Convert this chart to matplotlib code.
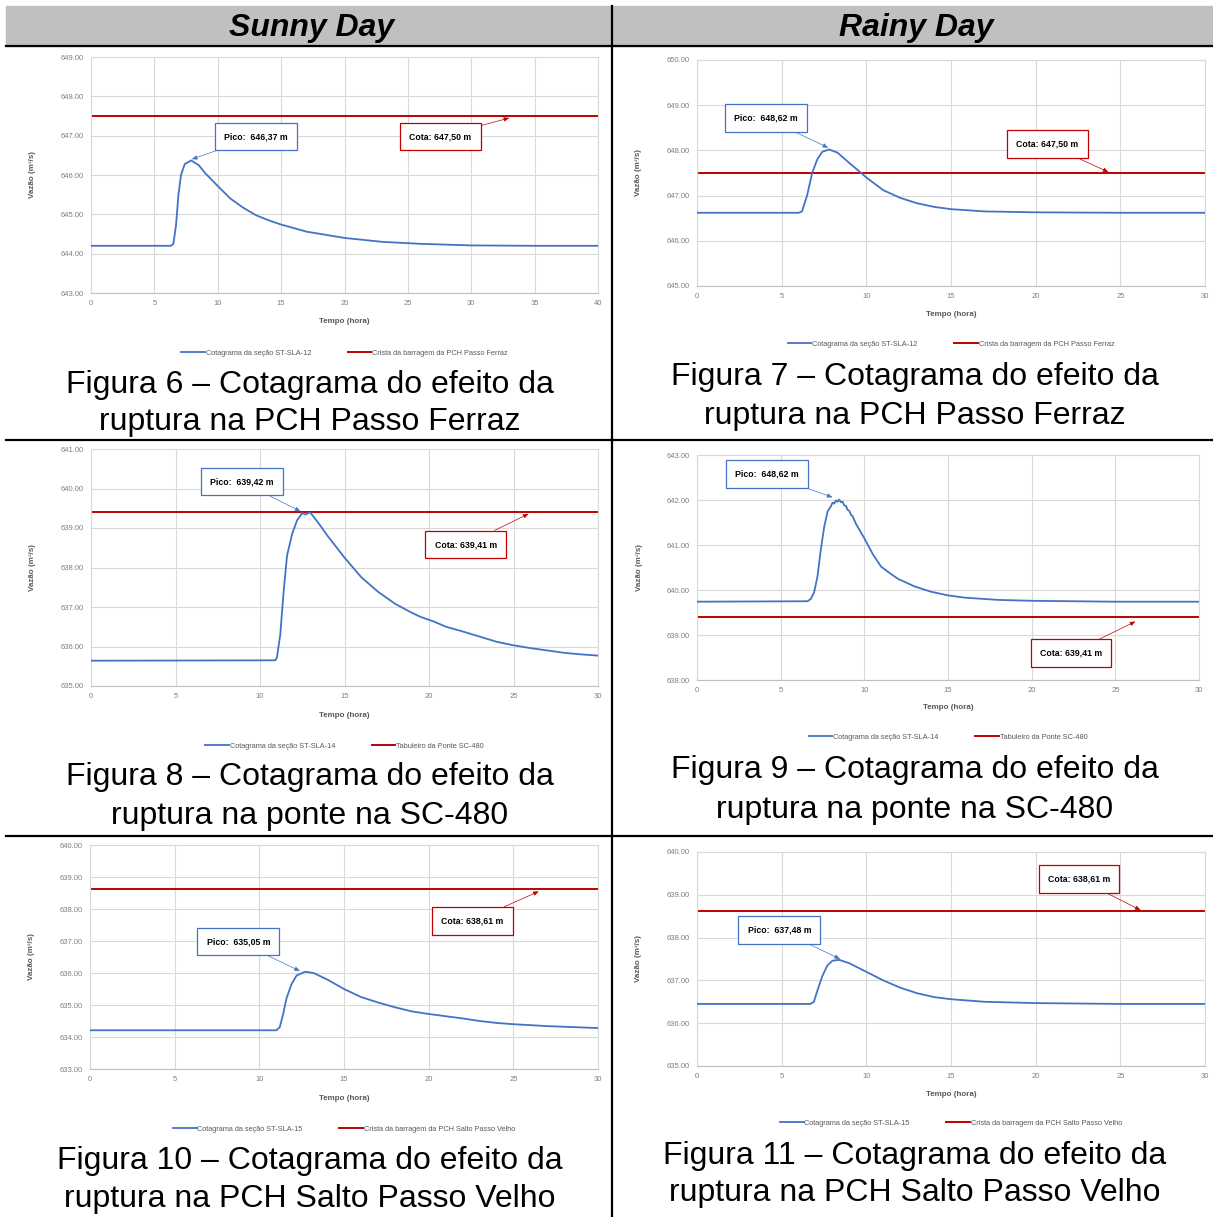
import numpy as np
import matplotlib
matplotlib.use('Agg')
import matplotlib.pyplot as plt
from matplotlib.lines import Line2D

plt.rcParams['font.family'] = ['Liberation Sans', 'DejaVu Sans']

W, H = 1213, 1217

# ---- data ----
headers = ['Sunny Day', 'Rainy Day']

t6 = [0, 6.3, 6.5, 6.7, 6.9, 7.1, 7.4, 7.9, 8.5, 9.0, 10, 11, 12, 13, 14, 15, 17, 20, 23, 26, 30, 35, 40]
z6 = [644.20, 644.20, 644.25, 644.70, 645.50, 646.00, 646.28, 646.37, 646.25, 646.05, 645.72, 645.40,
      645.17, 644.98, 644.85, 644.74, 644.56, 644.40, 644.30, 644.25, 644.21, 644.20, 644.20]

t7 = [0, 6.0, 6.2, 6.5, 6.8, 7.1, 7.4, 7.8, 8.3, 9.0, 9.7, 10, 11, 12, 13, 14, 15, 17, 20, 25, 30]
z7 = [646.62, 646.62, 646.65, 647.00, 647.50, 647.80, 647.97, 648.02, 647.95, 647.72, 647.50, 647.40,
      647.12, 646.95, 646.83, 646.75, 646.70, 646.65, 646.63, 646.62, 646.62]

t8 = [0, 10.9, 11.0, 11.2, 11.4, 11.6, 11.9, 12.2, 12.5, 12.7, 12.9, 13.0, 13.5, 14, 15, 16, 17, 18, 19,
      19.5, 20.3, 21, 22, 23, 24, 25, 26, 27, 28, 29, 30]
z8 = [635.64, 635.65, 635.72, 636.30, 637.40, 638.30, 638.85, 639.20, 639.38, 639.34, 639.39, 639.38,
      639.10, 638.80, 638.25, 637.75, 637.38, 637.08, 636.85, 636.75, 636.63, 636.50, 636.38, 636.25,
      636.12, 636.03, 635.96, 635.90, 635.84, 635.80, 635.77]

t9 = [0, 6.6, 6.8, 7.0, 7.2, 7.4, 7.6, 7.8, 7.9, 8.0, 8.1, 8.2, 8.3, 8.4, 8.5, 8.6, 8.7, 8.8, 8.9, 9.0,
      9.1, 9.2, 9.3, 9.5, 10, 10.5, 11, 11.5, 12, 13, 14, 15, 16, 18, 20, 25, 30]
z9 = [639.74, 639.75, 639.80, 639.95, 640.30, 640.90, 641.40, 641.74, 641.80, 641.86, 641.94, 641.92,
      641.99, 641.96, 642.01, 641.95, 641.96, 641.88, 641.87, 641.78, 641.76, 641.67, 641.64, 641.47,
      641.15, 640.80, 640.52, 640.38, 640.25, 640.08, 639.96, 639.88, 639.83, 639.78, 639.76, 639.74,
      639.74]

t10 = [0, 11.0, 11.2, 11.4, 11.6, 11.9, 12.2, 12.7, 13.2, 14, 15, 16, 17, 18, 19, 20, 21, 22, 23, 24,
       25, 27, 30]
z10 = [634.21, 634.21, 634.30, 634.70, 635.20, 635.65, 635.92, 636.04, 636.00, 635.80, 635.50, 635.25,
       635.08, 634.93, 634.80, 634.72, 634.65, 634.58, 634.50, 634.44, 634.40, 634.34, 634.28]

t11 = [0, 6.7, 6.9, 7.1, 7.4, 7.7, 8.0, 8.4, 9.0, 10, 11, 12, 13, 14, 15, 17, 20, 25, 30]
z11 = [636.45, 636.45, 636.50, 636.75, 637.10, 637.35, 637.46, 637.48, 637.40, 637.20, 637.00, 636.83,
       636.70, 636.61, 636.56, 636.50, 636.47, 636.45, 636.45]

crest = [647.50, 647.50, 639.41, 639.41, 638.61, 638.61]
pico_text = ['Pico:  646,37 m', 'Pico:  648,62 m', 'Pico:  639,42 m',
             'Pico:  648,62 m', 'Pico:  635,05 m', 'Pico:  637,48 m']
cota_text = ['Cota: 647,50 m', 'Cota: 647,50 m', 'Cota: 639,41 m',
             'Cota: 639,41 m', 'Cota: 638,61 m', 'Cota: 638,61 m']
series_names = ['Cotagrama da seção ST-SLA-12', 'Cotagrama da seção ST-SLA-12',
                'Cotagrama da seção ST-SLA-14', 'Cotagrama da seção ST-SLA-14',
                'Cotagrama da seção ST-SLA-15', 'Cotagrama da seção ST-SLA-15']
crest_names = ['Crista da barragem da PCH Passo Ferraz', 'Crista da barragem da PCH Passo Ferraz',
               'Tabuleiro da Ponte SC-480', 'Tabuleiro da Ponte SC-480',
               'Crista da barragem da PCH Salto Passo Velho', 'Crista da barragem da PCH Salto Passo Velho']
captions = [('Figura 6 – Cotagrama do efeito da', 'ruptura na PCH Passo Ferraz'),
            ('Figura 7 – Cotagrama do efeito da', 'ruptura na PCH Passo Ferraz'),
            ('Figura 8 – Cotagrama do efeito da', 'ruptura na ponte na SC-480'),
            ('Figura 9 – Cotagrama do efeito da', 'ruptura na ponte na SC-480'),
            ('Figura 10 – Cotagrama do efeito da', 'ruptura na PCH Salto Passo Velho'),
            ('Figura 11 – Cotagrama do efeito da', 'ruptura na PCH Salto Passo Velho')]
ylims = [(643, 649), (645, 650), (635, 641), (638, 643), (633, 640), (635, 640)]
xmaxs = [40, 30, 30, 30, 30, 30]

times = [t6, t7, t8, t9, t10, t11]
levels = [z6, z7, z8, z9, z10, z11]

# ---- layout (pixels) ----
rects = [(91, 57, 598, 293), (697, 60, 1205, 286), (91, 449, 598, 686),
         (697, 455, 1199, 680), (90, 845, 598, 1069), (697, 852, 1205, 1066)]
pico_box = [(0.326, 0.663), (0.135, 0.743), (0.297, 0.862), (0.139, 0.916), (0.292, 0.569), (0.162, 0.636)]
pico_head = [(7.95, 646.40), (7.75, 648.06), (12.4, 639.42), (8.1, 642.06), (12.4, 636.06), (8.45, 637.50)]
cota_box = [(0.689, 0.663), (0.690, 0.628), (0.739, 0.597), (0.745, 0.120), (0.753, 0.661), (0.752, 0.874)]
cota_head = [(33.0, 647.45), (24.3, 647.52), (25.9, 639.36), (26.2, 639.30), (26.5, 638.55), (26.2, 638.64)]
legend_y = [-0.254, -0.257, -0.253, -0.253, -0.268, -0.266]
xlabel_y = [-0.106, -0.11, -0.11, -0.107, -0.116, -0.117]
caption_y = [(385, 422), (377, 416), (777, 816), (770, 810), (1161, 1199), (1156, 1193)]

BLUE = '#4472c4'
RED = '#c00000'
GRID = '#d9d9d9'
TICK = '#7f7f7f'

fig = plt.figure(figsize=(W / 100, H / 100), dpi=100)


def fx(x):
    return x / W


def fy(y):
    return 1 - y / H


# table frame
fig.patches.append(plt.Rectangle((fx(6), fy(46)), fx(1213 - 6), (40) / H,
                                 transform=fig.transFigure, color='#c0c0c0', zorder=0))
for y in (46, 440, 836):
    fig.add_artist(Line2D([fx(6), 1], [fy(y), fy(y)], color='black', lw=1.6))
fig.add_artist(Line2D([fx(612), fx(612)], [fy(6), 0], color='black', lw=1.6))
for i, h in enumerate(headers):
    fig.text(fx(312 + i * 604), fy(28), h, ha='center', va='center', fontsize=23,
             fontweight='bold', fontstyle='italic')

for i in range(6):
    x0, y0, x1, y1 = rects[i]
    ax = fig.add_axes([fx(x0), fy(y1), (x1 - x0) / W, (y1 - y0) / H])
    ax.plot(times[i], levels[i], color=BLUE, lw=1.3, label=series_names[i], zorder=3)
    ax.axhline(crest[i], color=RED, lw=1.4, label=crest_names[i], zorder=2)
    ax.set_xlim(0, xmaxs[i])
    ax.set_ylim(*ylims[i])
    ax.set_xticks(np.arange(0, xmaxs[i] + 1, 5))
    ax.set_yticks(np.arange(ylims[i][0], ylims[i][1] + 0.5, 1))
    ax.set_yticklabels([f'{v:.2f}' for v in ax.get_yticks()])
    ax.grid(True, color=GRID, lw=0.8)
    ax.set_axisbelow(True)
    for s in ax.spines.values():
        s.set_color(GRID)
        s.set_linewidth(0.8)
    ax.spines['bottom'].set_color('#bfbfbf')
    ax.tick_params(length=0, labelsize=5.5, labelcolor=TICK, pad=5)
    ax.set_xlabel('Tempo (hora)', fontsize=5.8, fontweight='bold', color='#595959')
    ax.xaxis.set_label_coords(0.5, xlabel_y[i])
    ax.set_ylabel('Vazão (m³/s)', fontsize=5.8, fontweight='bold', color='#595959')
    ax.yaxis.set_label_coords(-0.108, 0.5)

    ax.annotate(pico_text[i], xy=pico_head[i], xycoords='data',
                xytext=pico_box[i], textcoords='axes fraction',
                ha='center', va='center', fontsize=6.3, fontweight='bold',
                bbox=dict(boxstyle='square,pad=1.05', fc='white', ec=BLUE, lw=0.9),
                arrowprops=dict(arrowstyle='-|>,head_length=0.5,head_width=0.2',
                                color=BLUE, lw=0.5, shrinkA=0, shrinkB=0), zorder=5)
    ax.annotate(cota_text[i], xy=cota_head[i], xycoords='data',
                xytext=cota_box[i], textcoords='axes fraction',
                ha='center', va='center', fontsize=6.3, fontweight='bold',
                bbox=dict(boxstyle='square,pad=1.05', fc='white', ec=RED, lw=0.9),
                arrowprops=dict(arrowstyle='-|>,head_length=0.5,head_width=0.2',
                                color=RED, lw=0.5, shrinkA=0, shrinkB=0), zorder=5)

    leg = ax.legend(loc='center', bbox_to_anchor=(0.5, legend_y[i]), ncol=2, frameon=False,
                    fontsize=5.3, handlelength=3.2, handletextpad=0.1, columnspacing=5)
    for txt in leg.get_texts():
        txt.set_color('#595959')

    cx = 310 if i % 2 == 0 else 915
    for line, yy in zip(captions[i], caption_y[i]):
        fig.text(fx(cx), fy(yy), line, ha='center', va='center', fontsize=23)

fig.savefig('out.png', dpi=100)
